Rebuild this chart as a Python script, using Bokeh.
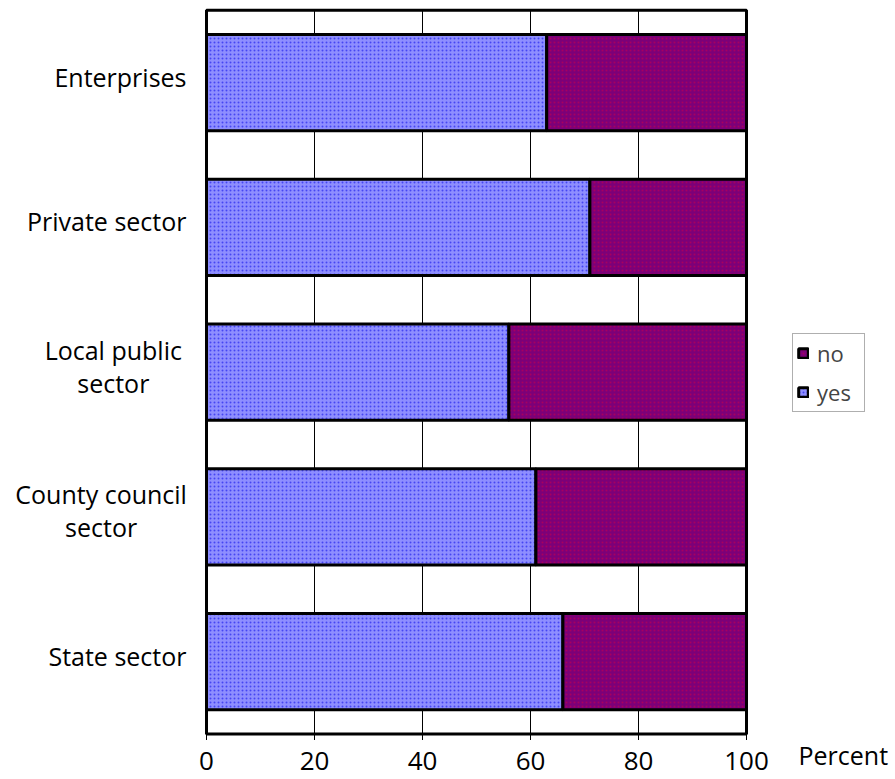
from bokeh.plotting import figure
from bokeh.models import ColumnDataSource, Range1d, Legend, LegendItem
from bokeh.core.properties import value
from bokeh.embed import file_html
from bokeh.resources import INLINE

# ---- data ----
categories = ["State sector", "County council\nsector", "Local public\nsector", "Private sector", "Enterprises"]
yes_values = [66, 61, 56, 71, 63]
no_values = [34, 39, 44, 29, 37]
x_ticks = [0, 20, 40, 60, 80, 100]
series_names = ["yes", "no"]
x_title = "Percent"

# ---- layout / style constants (pixels) ----
FONT = "Open Sans"
W, H = 895, 779
FRAME_L, FRAME_R, FRAME_T, FRAME_B = 206, 746, 9.7, 733.5
BASE_FIX = -11  # text baseline correction
n = len(categories)
px_x = (FRAME_R - FRAME_L) / 100.0
px_y = (FRAME_B - FRAME_T) / n

p = figure(width=W, height=H, output_backend="svg", toolbar_location=None,
           x_axis_type=None, y_axis_type=None, min_border=0,
           x_range=Range1d(-FRAME_L / px_x, 100 + (W - FRAME_R) / px_x),
           y_range=Range1d(-(H - FRAME_B) / px_y, n + FRAME_T / px_y))
p.outline_line_color = None
p.grid.visible = False
p.background_fill_color = "white"
p.border_fill_color = "white"

ypos = [i + 0.5 for i in range(n)]
src = ColumnDataSource(dict(y=ypos, cat=categories, yes=yes_values, no=no_values))

# vertical grid lines (behind bars)
grid_x = x_ticks[1:-1]
p.segment(x0=grid_x, x1=grid_x, y0=[0] * len(grid_x), y1=[n] * len(grid_x),
          line_color="black", line_width=1)

# stacked bars
r = p.hbar_stack(series_names, y="y", height=0.665, source=src,
                 fill_color=["#8E8EFF", "#7C0078"],
                 line_color="black", line_width=3,
                 hatch_pattern=[".", "."], hatch_color=["#4646F2", "#A8005E"],
                 hatch_scale=4, hatch_weight=1.0)

# plot-area border
p.quad(left=[x_ticks[0]], right=[x_ticks[-1]], bottom=[0], top=[n],
       fill_color=None, line_color="black", line_width=3)

# x ticks and tick labels
tick_len = 6 / px_y
p.segment(x0=x_ticks, x1=x_ticks, y0=[0] * len(x_ticks), y1=[-tick_len] * len(x_ticks),
          line_color="black", line_width=1)
p.text(x=x_ticks, y=[0] * len(x_ticks), text=[str(t) for t in x_ticks],
       text_font=value(FONT), text_font_size=value("26px"), text_color="black",
       text_align="center", text_baseline="alphabetic", y_offset=38 + BASE_FIX)
p.text(x=[x_ticks[-1]], y=[0], text=[x_title], x_offset=52, y_offset=31.5 + BASE_FIX,
       text_font=value(FONT), text_font_size=value("25px"), text_color="black",
       text_align="left", text_baseline="alphabetic")

# category labels: block right-aligned, lines centred within the block
LINE_H = 33
RIGHT_EDGE = FRAME_L - 20
CHAR_W = 12.2
lx, ly, lt, loff_x, loff_y = [], [], [], [], []
for yc, cat in zip(ypos, categories):
    lines = cat.split("\n")
    k = len(lines)
    for i, line in enumerate(lines):
        lx.append(0)
        ly.append(yc)
        lt.append(line)
        loff_y.append(5 + BASE_FIX + LINE_H * (i - (k - 1) / 2))
        if k == 1:
            loff_x.append(None)
        else:
            block_w = max(len(s) for s in lines) * CHAR_W
            loff_x.append(-(FRAME_L - RIGHT_EDGE) - block_w / 2)

single = [j for j, o in enumerate(loff_x) if o is None]
multi = [j for j, o in enumerate(loff_x) if o is not None]
p.text(x=[lx[j] for j in single], y=[ly[j] for j in single], text=[lt[j] for j in single],
       x_offset=-(FRAME_L - RIGHT_EDGE), y_offset=[loff_y[j] for j in single],
       text_font=value(FONT), text_font_size=value("25px"), text_color="black",
       text_align="right", text_baseline="alphabetic")
p.text(x=[lx[j] for j in multi], y=[ly[j] for j in multi], text=[lt[j] for j in multi],
       x_offset=[loff_x[j] for j in multi], y_offset=[loff_y[j] for j in multi],
       text_font=value(FONT), text_font_size=value("25px"), text_color="black",
       text_align="center", text_baseline="alphabetic")

# legend: "no" first, then "yes"
legend = Legend(items=[LegendItem(label="no", renderers=[r[1]]),
                       LegendItem(label="yes", renderers=[r[0]])],
                location=(792, H - 412), orientation="vertical",
                label_text_font=FONT, label_text_font_size="22px",
                glyph_width=12, glyph_height=12, label_standoff=8,
                label_height=24, label_width=43, spacing=9, padding=4, margin=0,
                border_line_color="#606060", border_line_width=1,
                background_fill_alpha=1)
p.add_layout(legend)

open("out.html", "w").write(file_html(p, INLINE))
